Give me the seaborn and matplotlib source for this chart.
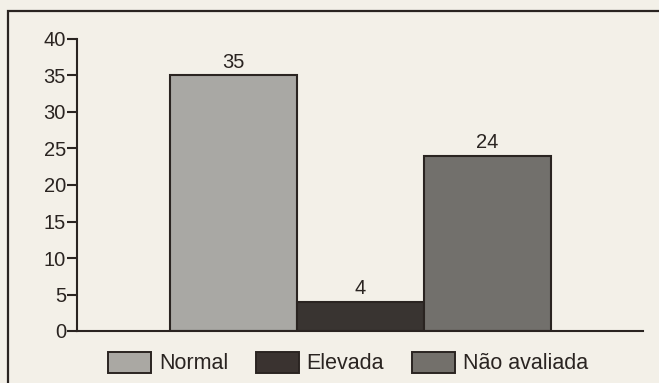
import matplotlib
matplotlib.use("Agg")
import matplotlib.pyplot as plt
from matplotlib.patches import Patch, Rectangle
import seaborn as sns
import pandas as pd

# Data
categories = ["Normal", "Elevada", "Não avaliada"]
values = [35, 4, 24]
y_ticks = [0, 5, 10, 15, 20, 25, 30, 35, 40]

paper = "#f3f0e8"
ink = "#2a2421"
fills = ["#aaa8a3", "#3a3330", "#73706b"]

sns.set_theme(style="white")
plt.rcParams["font.family"] = ["Liberation Sans", "DejaVu Sans"]

df = pd.DataFrame({"categoria": categories, "n": values})

fig = plt.figure(figsize=(6.59, 3.83), dpi=100, facecolor=paper)
ax = fig.add_axes([77 / 659, 52 / 383, 566 / 659, 292 / 383])
ax.set_facecolor(paper)

sns.barplot(data=df, x="categoria", y="n", hue="categoria",
            palette=fills, width=1.0, edgecolor=ink, linewidth=1.5,
            legend=False, ax=ax)

# value labels above bars
for i, v in enumerate(values):
    ax.text(i, v + 0.5, str(v), ha="center", va="bottom",
            fontsize=14.5, color=ink)

ax.set_ylim(0, 40)
ax.set_yticks(y_ticks)
ax.set_xlim(-1.232, 3.224)
ax.set_xticks([])
ax.set_xlabel("")
ax.set_ylabel("")
for side in ("top", "right"):
    ax.spines[side].set_visible(False)
for side in ("left", "bottom"):
    ax.spines[side].set_color(ink)
    ax.spines[side].set_linewidth(1.5)
ax.tick_params(axis="y", direction="out", length=7, width=1.5,
               color=ink, labelcolor=ink, labelsize=14.5, pad=1, left=True)

# outer frame
fig.patches.append(Rectangle((8 / 659, -0.1), 1.2, (383 - 11) / 383 + 0.1,
                             transform=fig.transFigure, fill=False,
                             edgecolor=ink, linewidth=1.6))

handles = [Patch(facecolor=c, edgecolor=ink, linewidth=1.4) for c in fills]
fig.legend(handles, categories, loc="center", bbox_to_anchor=(348 / 659, 20 / 383),
           ncol=3, frameon=False, fontsize=15.5, handlelength=2.0,
           handleheight=1.15, handletextpad=0.35, columnspacing=1.3,
           labelcolor=ink)

fig.savefig("out.png", dpi=100, facecolor=paper)
